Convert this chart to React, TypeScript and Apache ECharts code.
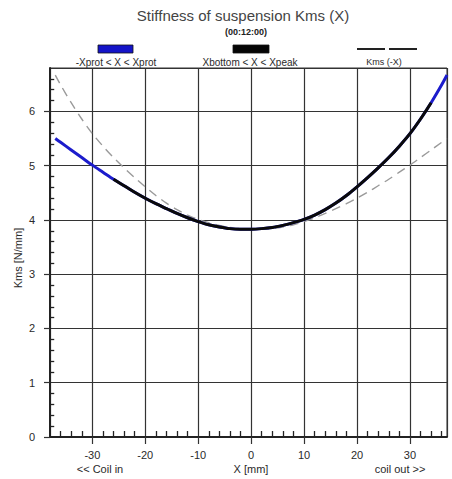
import React, { useEffect, useRef } from "react";
import * as echarts from "echarts";

const xs = [-37, -36, -34, -32, -30, -28, -26, -24, -22, -20, -18, -16, -14, -12, -10, -8, -6, -4, -2, 0, 2, 4, 6, 8, 10, 12, 14, 16, 18, 20, 22, 24, 26, 28, 30, 32, 34, 36, 37];
const kms = [5.5, 5.43, 5.29, 5.15, 5.01, 4.88, 4.75, 4.63, 4.51, 4.4, 4.3, 4.21, 4.12, 4.04, 3.97, 3.91, 3.87, 3.84, 3.83, 3.83, 3.84, 3.86, 3.9, 3.95, 4.01, 4.09, 4.19, 4.31, 4.45, 4.61, 4.78, 4.96, 5.15, 5.36, 5.59, 5.86, 6.16, 6.49, 6.67];
const xBottom = -26;
const xPeak = 34;
const xTickLabels = ["-30", "-20", "-10", "0", "10", "20", "30"];
const yTickLabels = ["0", "1", "2", "3", "4", "5", "6"];
const xMinorTicks = [-36, -34, -32, -28, -26, -24, -22, -18, -16, -14, -12, -8, -6, -4, -2, 2, 4, 6, 8, 12, 14, 16, 18, 22, 24, 26, 28, 32, 34, 36];
const yMinorTicks = [0.2, 0.4, 0.6, 0.8, 1.2, 1.4, 1.6, 1.8, 2.2, 2.4, 2.6, 2.8, 3.2, 3.4, 3.6, 3.8, 4.2, 4.4, 4.6, 4.8, 5.2, 5.4, 5.6, 5.8, 6.2, 6.4, 6.6];

const TITLE = "Stiffness of suspension Kms (X)";
const SUBTITLE = "(00:12:00)";
const LEGEND = ["-Xprot < X < Xprot", "Xbottom < X < Xpeak", "Kms (-X)"];

const X_MIN = -38;
const X_MAX = 37;
const Y_MIN = 0;
const Y_MAX = 6.8;

export default function App() {
  const ref = useRef<HTMLDivElement>(null);
  useEffect(() => {
    if (!ref.current) return;
    const chart = echarts.init(ref.current, undefined, { renderer: "svg" });
    const full = xs.map((x, i) => [x, kms[i]]);
    const mid = xs.map((x, i) => [x, kms[i]]).filter((p) => p[0] >= xBottom && p[0] <= xPeak);
    const mirrored = xs.map((x, i) => [-x, kms[i]]).reverse();
    const xTickPts = xMinorTicks.map((v) => [v, Y_MIN]);
    const yTickPts = yMinorTicks.map((v) => [X_MIN, v]);
    const font = "Liberation Sans, Arial, sans-serif";
    const txt = "#2a2a2a";
    chart.setOption({
      animation: false,
      backgroundColor: "#fff",
      grid: { left: 50, right: 5, top: 68, bottom: 42, show: true, borderColor: "#333", borderWidth: 1 },
      xAxis: {
        type: "value", position: "bottom", min: X_MIN, max: X_MAX, splitNumber: 8,
        axisLine: { show: true, onZero: false, lineStyle: { color: "#222", width: 2 } },
        axisTick: { show: true, inside: false, length: 7, lineStyle: { color: "#333", width: 1.2 } },
        axisLabel: {
          showMinLabel: false, showMaxLabel: false, margin: 12, color: txt, fontSize: 11, fontFamily: font,
          formatter: (v: number) => (xTickLabels.includes(String(v)) ? String(v) : ""),
        },
        splitLine: { show: true, lineStyle: { color: "#333", width: 1.2 } },
      },
      yAxis: {
        type: "value", position: "left", min: Y_MIN, max: Y_MAX, interval: 1,
        axisLine: { show: true, onZero: false, lineStyle: { color: "#222", width: 2 } },
        axisTick: { show: true, inside: false, length: 6, lineStyle: { color: "#333", width: 1.2 } },
        axisLabel: {
          showMaxLabel: false, margin: 15, color: txt, fontSize: 11, fontFamily: font,
          formatter: (v: number) => (yTickLabels.includes(String(v)) ? String(v) : ""),
        },
        splitLine: { show: true, lineStyle: { color: "#333", width: 1.2 } },
      },
      series: [
        {
          type: "line", data: mirrored, symbol: "none", smooth: 0.3,
          lineStyle: { color: "#9a9a9a", width: 1.4, type: [9, 6] }, z: 2,
        },
        {
          type: "line", data: full, symbol: "none", smooth: 0.3,
          lineStyle: { color: "#1c1ccc", width: 3 }, z: 3,
        },
        {
          type: "line", data: mid, symbol: "none", smooth: 0.3,
          lineStyle: { color: "#0a0a0a", width: 3 }, z: 4,
        },
        {
          type: "line", data: [], symbol: "none", z: 6,
          markLine: {
            silent: true, symbol: "none", label: { show: false }, animation: false,
            lineStyle: { color: "#222", width: 1.3, type: "solid" },
            data: [
              ...xTickPts.map((p) => [{ coord: p }, { coord: [p[0], p[1] + 0.11] }]),
              ...yTickPts.map((p) => [{ coord: p }, { coord: [p[0] + 0.8, p[1]] }]),
            ],
          },
        },
      ],
      graphic: [
        { type: "text", x: 243, y: 15, style: { text: TITLE, fill: "#444", font: `15px ${font}`, textAlign: "center", textVerticalAlign: "middle" } },
        { type: "text", x: 246, y: 32, style: { text: SUBTITLE, fill: "#222", font: `bold 9px ${font}`, textAlign: "center", textVerticalAlign: "middle" } },
        { type: "rect", shape: { x: 98, y: 45, width: 35, height: 8 }, style: { fill: "#1414c8", stroke: "#111", lineWidth: 0.8 } },
        { type: "text", x: 116, y: 62, style: { text: LEGEND[0], fill: txt, font: `10px ${font}`, textAlign: "center", textVerticalAlign: "middle" } },
        { type: "rect", shape: { x: 233, y: 45, width: 36, height: 8 }, style: { fill: "#050505", stroke: "#111", lineWidth: 0.8 } },
        { type: "text", x: 250, y: 62, style: { text: LEGEND[1], fill: txt, font: `10px ${font}`, textAlign: "center", textVerticalAlign: "middle" } },
        { type: "line", shape: { x1: 357, y1: 49, x2: 385, y2: 49 }, style: { stroke: "#222", lineWidth: 2 } },
        { type: "line", shape: { x1: 389, y1: 49, x2: 417, y2: 49 }, style: { stroke: "#222", lineWidth: 2 } },
        { type: "text", x: 384, y: 62, style: { text: LEGEND[2], fill: txt, font: `9px ${font}`, textAlign: "center", textVerticalAlign: "middle" } },
        { type: "text", x: 18, y: 258, rotation: Math.PI / 2, style: { text: "Kms [N/mm]", fill: txt, font: `11px ${font}`, textAlign: "center", textVerticalAlign: "middle" } },
        { type: "text", x: 100, y: 469, style: { text: "<< Coil in", fill: txt, font: `11px ${font}`, textAlign: "center", textVerticalAlign: "middle" } },
        { type: "text", x: 251, y: 469, style: { text: "X [mm]", fill: txt, font: `11px ${font}`, textAlign: "center", textVerticalAlign: "middle" } },
        { type: "text", x: 400, y: 469, style: { text: "coil out >>", fill: txt, font: `11px ${font}`, textAlign: "center", textVerticalAlign: "middle" } },
      ],
    });
    return () => chart.dispose();
  }, []);
  return <div ref={ref} style={{ width: 452, height: 479, position: "absolute", left: 0, top: 0 }} />;
}
